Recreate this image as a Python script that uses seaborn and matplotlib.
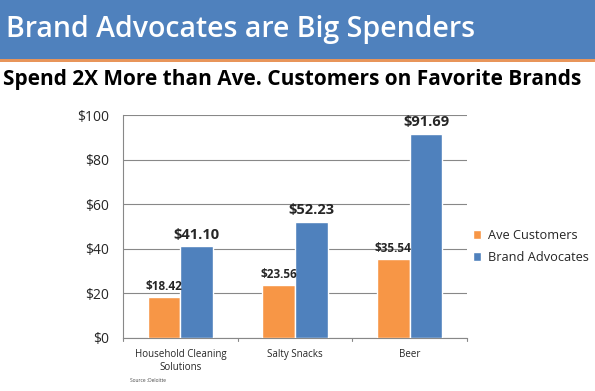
import pandas as pd
import matplotlib.pyplot as plt
import seaborn as sns
from matplotlib.patches import Rectangle

# ==========================================
# Data
# ==========================================

categories = ["Household Cleaning\nSolutions", "Salty Snacks", "Beer"]
ave_customers = [18.42, 23.56, 35.54]
brand_advocates = [41.10, 52.23, 91.69]
series_names = ["Ave Customers", "Brand Advocates"]
y_ticks = [0, 20, 40, 60, 80, 100]

df = pd.DataFrame({
    "category": categories * 2,
    "series": [series_names[0]] * 3 + [series_names[1]] * 3,
    "value": ave_customers + brand_advocates,
})

# ==========================================
# Figure
# ==========================================

sns.set_style("white")
plt.rcParams["font.family"] = ["Open Sans", "DejaVu Sans"]

W, H = 595, 391
fig = plt.figure(figsize=(W / 100, H / 100), dpi=100)

# banner
fig.patches.append(Rectangle((0, 1 - 59 / H), 1, 59 / H, transform=fig.transFigure,
                             facecolor="#4F81BD", edgecolor="none", zorder=0))
fig.patches.append(Rectangle((0, 1 - 62 / H), 1, 3 / H, transform=fig.transFigure,
                             facecolor="#E8955A", edgecolor="none", zorder=0))
fig.text(6 / W, 1 - 29 / H, "Brand Advocates are Big Spenders", color="white",
         fontsize=20.5, fontweight="semibold", va="center", ha="left")
fig.text(3 / W, 1 - 80 / H, "Spend 2X More than Ave. Customers on Favorite Brands",
         color="black", fontsize=15, fontweight="bold", va="center", ha="left")

ax = fig.add_axes([123 / W, (H - 338) / H, 344 / W, 223 / H])

palette = {"Ave Customers": "#F79646", "Brand Advocates": "#4F81BD"}
sns.barplot(data=df, x="category", y="value", hue="series", palette=palette,
            width=0.57, saturation=1, ax=ax, zorder=3)

ax.set_ylim(0, 100)
ax.set_xlim(-0.5, 2.5)
ax.set_yticks(y_ticks)
ax.set_yticklabels([f"${v}" for v in y_ticks], fontsize=10)
ax.tick_params(axis="y", length=4, color="#888888", pad=6)
ax.tick_params(axis="x", length=0, labelsize=7, pad=8)
ax.set_xlabel("")
ax.set_ylabel("")
ax.grid(axis="y", color="#888888", linewidth=0.8, zorder=0)

for s in ["top", "right"]:
    ax.spines[s].set_visible(False)
for s in ["left", "bottom"]:
    ax.spines[s].set_color("#888888")
    ax.spines[s].set_linewidth(0.8)

# category separator ticks on x axis
for xb in [-0.5, 0.5, 1.5, 2.5]:
    ax.plot([xb, xb], [0, -1.5], color="#888888", linewidth=0.8, clip_on=False)

# value labels
for cont, size in zip(ax.containers, [8.5, 10.5]):
    ax.bar_label(cont, labels=[f"${v.get_height():.2f}" for v in cont],
                 fontsize=size, fontweight="bold", padding=3)

ax.legend(loc="center left", bbox_to_anchor=(0.99, 0.41), frameon=False,
          fontsize=9.2, handlelength=0.7, handleheight=0.7, handletextpad=0.5,
          labelspacing=0.75, borderaxespad=0.3)

fig.text(130 / W, 1 - 381 / H, "Source :Deloitte", fontsize=3.5, color="#444444",
         va="center")

fig.savefig("out.png", dpi=100)
